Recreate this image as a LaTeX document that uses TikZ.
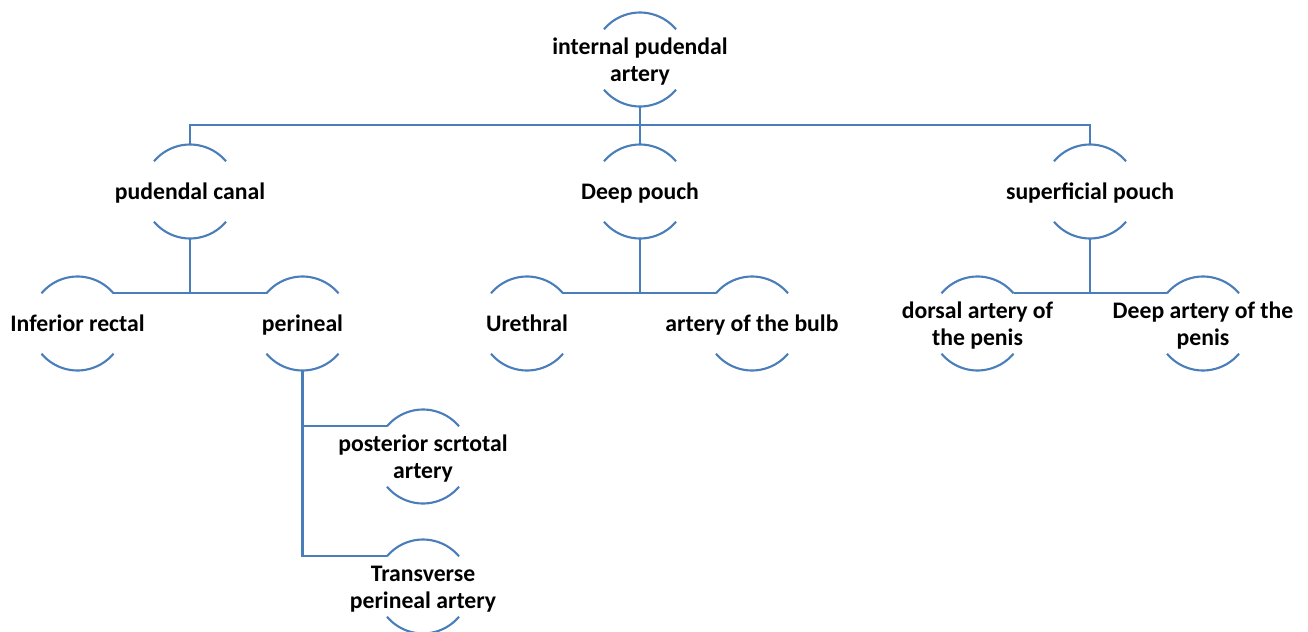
\documentclass[tikz,border=0pt]{standalone}
\usepackage{fontspec}
\setmainfont{Carlito}
\definecolor{linkblue}{HTML}{4A7EBB}
\newcommand{\lbl}[1]{\raisebox{-5.2pt}[0pt][0pt]{\makebox[0pt]{\begin{tabular}{@{}c@{}}#1\end{tabular}}}}
\tikzset{
    art/.style={circle, minimum size=1.88cm, inner sep=0pt, outer sep=0pt, font=\fontsize{13.5}{15.4}\selectfont\bfseries},
    link/.style={draw=linkblue, line width=1.2pt}
}

\begin{document}
\begin{tikzpicture}[x=0.02cm, y=0.02cm]
    \useasboundingbox (0,0) rectangle (1308,-632);

    \node[art] (ipa) at (640,-59.5) {\lbl{internal pudendal\\artery}};

    \node[art] (pc) at (190,-191.5) {\lbl{pudendal canal}};
    \node[art] (dp) at (640,-191.5) {\lbl{Deep pouch}};
    \node[art] (sp) at (1090,-191.5) {\lbl{superficial pouch}};

    \node[art] (ir) at (77.5,-323.5) {\lbl{Inferior rectal}};
    \node[art] (pe) at (302.5,-323.5) {\lbl{perineal}};
    \node[art] (ur) at (527,-323.5) {\lbl{Urethral}};
    \node[art] (ab) at (752,-323.5) {\lbl{artery of the bulb}};
    \node[art] (da) at (977.5,-323.5) {\lbl{dorsal artery of\\the penis}};
    \node[art] (de) at (1203,-323.5) {\lbl{Deep artery of the\\penis}};

    \node[art] (ps) at (423,-456.5) {\lbl{posterior scrtotal\\artery}};
    \node[art] (tp) at (423,-586.5) {\lbl{Transverse\\perineal artery}};

    \foreach \n in {ipa,pc,dp,sp,ir,pe,ur,ab,da,de,ps,tp} {
        \draw[link] (\n.140) arc[start angle=140, end angle=40, radius=0.94cm];
        \draw[link] (\n.220) arc[start angle=220, end angle=320, radius=0.94cm];
    }

    \coordinate (bus) at (640,-125);
    \draw[link] (ipa.south) -- (bus);
    \draw[link] (pc.north) |- (bus) -| (sp.north);
    \draw[link] (bus) -- (dp.north);

    \draw[link] (ir.40) -- (pe.140);
    \draw[link] (pc.south) -- (pc.south |- ir.40);
    \draw[link] (ur.40) -- (ab.140);
    \draw[link] (dp.south) -- (dp.south |- ur.40);
    \draw[link] (da.40) -- (de.140);
    \draw[link] (sp.south) -- (sp.south |- da.40);

    \draw[link] (pe.south) |- (ps.140);
    \draw[link] (pe.south) |- (tp.140);
\end{tikzpicture}
\end{document}
